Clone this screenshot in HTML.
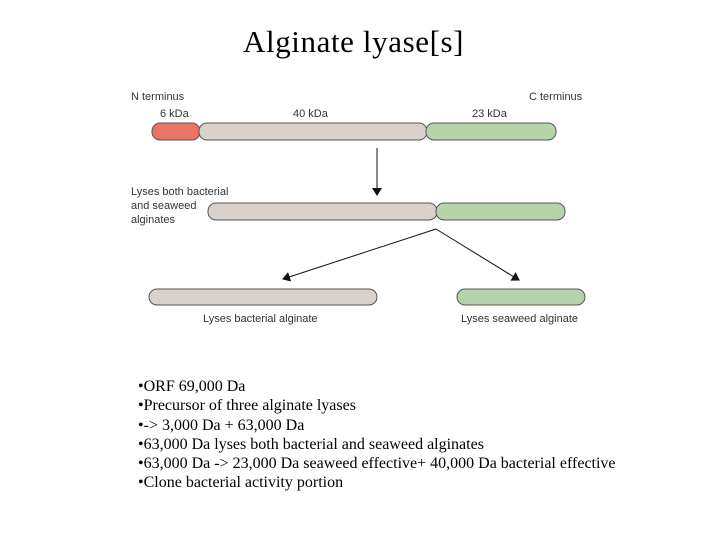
<!DOCTYPE html>
<html><head><style>
body{margin:0;width:720px;height:540px;background:#fff;position:relative;overflow:hidden}
.t{position:absolute;font-family:"Liberation Serif",serif;color:#000}
</style></head><body>
<div class="t" style="left:243px;top:24px;white-space:nowrap;font-size:31px;letter-spacing:0.6px">Alginate lyase[s]</div>
<svg width="720" height="540" style="position:absolute;left:0;top:0" font-family="Liberation Sans, sans-serif" font-size="11" fill="#333">
<defs><marker id="a" markerWidth="8" markerHeight="10" refX="7" refY="5" orient="auto" markerUnits="userSpaceOnUse"><path d="M0,0 L8,5 L0,10 z" fill="#111"/></marker></defs>
<text x="131" y="100">N terminus</text>
<text x="529" y="100">C terminus</text>
<text x="160" y="117">6 kDa</text>
<text x="293" y="117">40 kDa</text>
<text x="472" y="117">23 kDa</text>
<g stroke="#555" stroke-width="1">
<rect x="152" y="123" width="48" height="17" rx="8" fill="#ec7466"/>
<rect x="199" y="123" width="228" height="17" rx="8" fill="#d9d1cb"/>
<rect x="426" y="123" width="130" height="17" rx="8" fill="#b6d3ac"/>
<rect x="208" y="203" width="229" height="17" rx="8" fill="#d9d1cb"/>
<rect x="436" y="203" width="129" height="17" rx="8" fill="#b6d3ac"/>
<rect x="149" y="289" width="228" height="16" rx="8" fill="#d9d1cb"/>
<rect x="457" y="289" width="128" height="16" rx="8" fill="#b6d3ac"/>
</g>
<g stroke="#111" stroke-width="1">
<line x1="377" y1="148" x2="377" y2="195" marker-end="url(#a)"/>
<line x1="436" y1="229" x2="283" y2="279" marker-end="url(#a)"/>
<line x1="436" y1="229" x2="519" y2="280" marker-end="url(#a)"/>
</g>
<text x="131" y="195">Lyses both bacterial</text>
<text x="131" y="209">and seaweed</text>
<text x="131" y="223">alginates</text>
<text x="203" y="322">Lyses bacterial alginate</text>
<text x="461" y="322">Lyses seaweed alginate</text>
</svg>
<div class="t" style="left:138px;top:377px;font-size:16px;line-height:19.3px;white-space:nowrap">
•ORF 69,000 Da<br>•Precursor of three alginate lyases<br>•-&gt; 3,000 Da + 63,000 Da<br>•63,000 Da lyses both bacterial and seaweed alginates<br>•63,000 Da -&gt; 23,000 Da seaweed effective+ 40,000 Da bacterial effective<br>•Clone bacterial activity portion
</div>
</body></html>
